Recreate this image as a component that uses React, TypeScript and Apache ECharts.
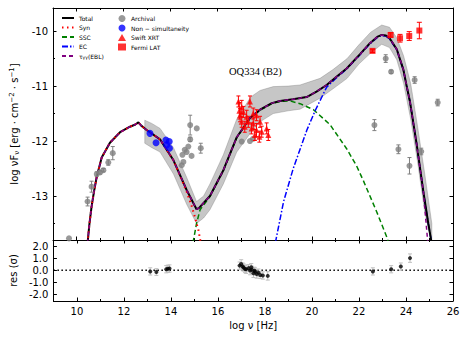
import React, { useEffect, useRef } from 'react';
import * as echarts from 'echarts';

// ---------- data ----------
const xTicksMajor = [10, 12, 14, 16, 18, 20, 22, 24, 26];
const xTicksMinor = [9, 11, 13, 15, 17, 19, 21, 23, 25];
const yTicksMajor = [-13, -12, -11, -10];
const yTicksMinor = [-13.5, -12.5, -11.5, -10.5];
const resTicks = [-2, -1, 0, 1, 2];

const totalCurve: [number, number][] = [
  [10.47, -13.85], [10.55, -13.5], [10.64, -13.19], [10.75, -12.9], [10.86, -12.65], [11.07, -12.3],
  [11.42, -12.03], [11.85, -11.84], [12.27, -11.74], [12.5, -11.7], [12.63, -11.66], [12.75, -11.72],
  [12.98, -11.8], [13.55, -11.97], [14.12, -12.35], [14.68, -12.89], [15.1, -13.24], [15.2, -13.22],
  [15.67, -13.0], [16.24, -12.53], [16.81, -11.93], [17.37, -11.58], [17.8, -11.43], [18.3, -11.31],
  [18.65, -11.27], [19.2, -11.24], [19.78, -11.2], [20.2, -11.1], [20.63, -10.98], [21.05, -10.83],
  [21.48, -10.68], [22.05, -10.42], [22.47, -10.22], [22.8, -10.1], [22.97, -10.07], [23.15, -10.08],
  [23.32, -10.14], [23.61, -10.33], [23.89, -10.7], [24.03, -11.0], [24.17, -11.28], [24.46, -12.07],
  [24.74, -12.92], [24.95, -13.5], [25.09, -13.85],
];
const synCurve: [number, number][] = [
  [10.47, -13.85], [10.55, -13.5], [10.64, -13.19], [10.75, -12.9], [10.86, -12.65], [11.07, -12.3],
  [11.42, -12.03], [11.85, -11.84], [12.27, -11.74], [12.5, -11.7], [12.63, -11.66], [12.75, -11.72],
  [12.98, -11.8], [13.55, -11.97], [14.12, -12.35], [14.68, -12.92], [14.9, -13.19], [15.03, -13.38],
  [15.18, -13.62], [15.28, -13.85],
];
const sscCurve: [number, number][] = [
  [14.95, -13.85], [15.1, -13.5], [15.25, -13.25], [15.67, -13.01], [16.24, -12.54], [16.81, -11.94],
  [17.37, -11.59], [17.8, -11.44], [18.3, -11.32], [18.65, -11.28], [19.07, -11.27], [19.5, -11.32],
  [20.07, -11.43], [20.77, -11.7], [21.48, -12.14], [21.9, -12.45], [22.19, -12.72], [22.76, -13.29],
  [23.18, -13.74], [23.26, -13.85],
];
const ecCurve: [number, number][] = [
  [18.45, -13.85], [18.8, -13.1], [19.21, -12.5], [19.79, -11.8], [20.15, -11.44], [20.63, -11.02],
  [21.05, -10.85], [21.48, -10.69], [22.05, -10.43], [22.47, -10.23], [22.8, -10.11], [22.97, -10.08],
  [23.15, -10.09], [23.32, -10.15], [23.61, -10.34], [23.89, -10.7], [24.03, -11.0], [24.17, -11.28],
  [24.46, -12.07], [24.74, -12.92], [24.95, -13.5], [25.09, -13.85],
];
const ebl: [number, number][] = [
  [10.47, -13.85], [10.55, -13.5], [10.64, -13.19], [10.75, -12.9], [10.86, -12.65], [11.07, -12.3],
  [11.42, -12.03], [11.85, -11.84], [12.27, -11.74], [12.5, -11.7], [12.63, -11.66], [12.75, -11.72],
  [12.98, -11.8], [13.55, -11.97], [14.12, -12.35], [14.68, -12.89], [15.1, -13.24], [15.2, -13.22],
  [15.67, -13.0], [16.24, -12.53], [16.81, -11.93], [17.37, -11.58], [17.8, -11.43], [18.3, -11.31],
  [18.65, -11.27], [19.2, -11.24], [19.78, -11.2], [20.2, -11.1], [20.63, -10.98], [21.05, -10.83],
  [21.48, -10.68], [22.05, -10.42], [22.47, -10.22], [22.8, -10.1], [22.97, -10.07], [23.15, -10.08],
  [23.32, -10.14], [23.61, -10.33], [23.89, -10.7], [24.03, -11.0], [24.17, -11.28], [24.46, -12.07],
  [24.74, -12.92], [24.93, -13.85],
];

const bandX = [12.9, 13.2, 13.55, 14.12, 14.68, 15.1, 15.4, 15.67, 16.24, 16.81, 17.4, 17.8, 18.36, 19.0, 19.5, 20.35, 20.9, 21.5, 22.0, 22.5, 22.97, 23.3, 23.61, 23.9, 24.2, 24.5, 24.8, 25.1];
const bandHi = [-11.62, -11.68, -11.77, -12.12, -12.66, -13.1, -13.0, -12.78, -12.25, -11.6, -11.2, -11.08, -11.01, -11.0, -10.98, -10.86, -10.7, -10.5, -10.25, -10.02, -9.89, -9.93, -10.12, -10.45, -10.95, -11.75, -12.6, -13.5];
const bandLo = [-12.04, -12.12, -12.2, -12.6, -13.15, -13.5, -13.4, -13.25, -12.78, -12.2, -11.85, -11.65, -11.5, -11.45, -11.42, -11.22, -11.05, -10.86, -10.6, -10.4, -10.24, -10.3, -10.52, -10.95, -11.6, -12.4, -13.3, -13.85];

// [log nu, log nuFnu, error]
const archival: [number, number, number][] = [
  [9.68, -13.77, 0], [10.47, -13.1, 0.08], [10.64, -12.83, 0.1], [10.86, -12.6, 0.04], [11.0, -12.57, 0.03],
  [11.14, -12.53, 0.03], [11.35, -12.39, 0.05], [11.54, -12.22, 0.12],
  [14.47, -12.44, 0], [14.54, -12.38, 0], [14.5, -12.25, 0], [14.6, -12.16, 0], [14.68, -12.2, 0],
  [14.75, -12.1, 0], [14.83, -11.97, 0.04], [14.89, -12.27, 0], [14.83, -11.71, 0.18], [15.11, -11.77, 0],
  [15.28, -12.13, 0.09],
  [17.02, -12.01, 0], [17.37, -12.0, 0], [17.5, -11.96, 0],
  [22.66, -11.71, 0.1], [23.14, -10.5, 0.07], [23.37, -10.74, 0.03], [23.68, -12.15, 0.08],
  [24.15, -12.45, 0.15], [24.37, -10.89, 0.06], [24.65, -12.19, 0.06], [25.35, -11.3, 0.06],
];
const nonSimult: [number, number][] = [
  [13.12, -11.86], [13.38, -12.03], [13.8, -11.98], [13.94, -12.01], [13.83, -12.07], [13.95, -12.13],
];
const swiftXrt: [number, number, number][] = [
  [16.88, -11.28, 0.1], [16.92, -11.45, 0.15], [16.95, -11.53, 0.12], [17.02, -11.38, 0.12], [17.02, -11.65, 0.1],
  [17.09, -11.47, 0.1], [17.15, -11.74, 0.1], [17.23, -11.56, 0.12], [17.3, -11.65, 0.1], [17.37, -11.28, 0.1],
  [17.44, -11.77, 0.1], [17.51, -11.5, 0.1], [17.51, -11.68, 0.1], [17.58, -11.89, 0.1], [17.65, -11.53, 0.1],
  [17.65, -11.8, 0.12], [17.77, -11.92, 0.1], [17.8, -11.65, 0.1], [17.87, -11.83, 0.1], [18.08, -11.77, 0.1],
  [18.15, -11.89, 0.1],
];
const fermiLat: [number, number, number][] = [
  [22.58, -10.36, 0.03], [23.35, -10.07, 0.04], [23.75, -10.13, 0.07], [24.14, -10.09, 0.08], [24.57, -9.99, 0.15],
];
const residuals: [number, number, number][] = [
  [13.12, -0.1, 0.3], [13.38, -0.15, 0.28], [13.8, 0.08, 0.3], [13.87, 0.12, 0.3], [13.94, 0.14, 0.3],
  [16.92, 0.38, 0.3], [16.99, 0.52, 0.35], [17.05, 0.3, 0.3], [17.09, 0.22, 0.3], [17.15, 0.1, 0.3],
  [17.2, 0.08, 0.35], [17.3, 0.17, 0.3], [17.37, -0.03, 0.35], [17.42, 0.25, 0.3], [17.44, 0.03, 0.3],
  [17.51, -0.25, 0.35], [17.55, -0.05, 0.3], [17.58, -0.11, 0.3], [17.65, -0.31, 0.35], [17.72, -0.2, 0.3],
  [17.8, -0.39, 0.3], [17.91, -0.44, 0.3], [18.12, -0.47, 0.35],
  [22.59, -0.1, 0.3], [23.37, 0.08, 0.3], [23.78, 0.3, 0.3], [24.17, 1.0, 0.35],
];
const zeroLine: [number, number][] = [[9, 0], [26, 0]];

const FONT = 'DejaVu Sans';

function errorBars(color: string, cap: number) {
  return (params: any, api: any) => {
    const x = api.value(0), y = api.value(1), e = api.value(2);
    if (!e) return null;
    const a = api.coord([x, y + e]);
    const b = api.coord([x, y - e]);
    const style = { stroke: color, lineWidth: 1 };
    return {
      type: 'group',
      children: [
        { type: 'line', shape: { x1: a[0], y1: a[1], x2: b[0], y2: b[1] }, style },
        { type: 'line', shape: { x1: a[0] - cap, y1: a[1], x2: a[0] + cap, y2: a[1] }, style },
        { type: 'line', shape: { x1: b[0] - cap, y1: b[1], x2: b[0] + cap, y2: b[1] }, style },
      ],
    };
  };
}

function xAx(grid: number, pos: string, ticks: number[], len: number, line: boolean, labels: boolean, extra: any = {}) {
  return {
    type: 'value', gridIndex: grid, position: pos, min: 9, max: 26,
    axisLine: { show: line, onZero: false, lineStyle: { color: '#000', width: 1 } },
    axisTick: { show: true, inside: true, length: len, customValues: ticks, lineStyle: { color: '#000', width: 1 } },
    axisLabel: { show: labels, customValues: ticks, color: '#000', fontSize: 10, fontFamily: FONT, margin: 5 },
    splitLine: { show: false },
    ...extra,
  };
}
function yAx(grid: number, pos: string, min: number, max: number, ticks: number[], len: number, line: boolean, labels: boolean, fmt: any, extra: any = {}) {
  return {
    type: 'value', gridIndex: grid, position: pos, min, max,
    axisLine: { show: line, onZero: false, lineStyle: { color: '#000', width: 1 } },
    axisTick: { show: true, inside: true, length: len, customValues: ticks, lineStyle: { color: '#000', width: 1 } },
    axisLabel: { show: labels, customValues: ticks, color: '#000', fontSize: 10, fontFamily: FONT, margin: 5, formatter: fmt },
    splitLine: { show: false },
    ...extra,
  };
}

export default function App() {
  const ref = useRef<HTMLDivElement>(null);
  useEffect(() => {
    if (!ref.current) return;
    const chart = echarts.init(ref.current, null, { renderer: 'svg' });
    const mainFmt = (v: number) => String(Math.round(v));
    const resFmt = (v: number) => v.toFixed(1);
    const option: any = {
      animation: false,
      backgroundColor: '#fff',
      textStyle: { fontFamily: FONT },
      grid: [
        { left: 53, top: 8, width: 400, height: 232 },
        { left: 53, top: 240, width: 400, height: 61 },
      ],
      xAxis: [
        xAx(0, 'bottom', xTicksMajor, 3.5, true, false),
        xAx(0, 'top', xTicksMajor, 3.5, true, false),
        xAx(0, 'bottom', xTicksMinor, 2, false, false),
        xAx(0, 'top', xTicksMinor, 2, false, false),
        xAx(1, 'bottom', xTicksMajor, 3.5, true, true, {
          name: 'log ν [Hz]', nameLocation: 'middle', nameGap: 19,
          nameTextStyle: { fontSize: 10, fontFamily: FONT, color: '#000' },
        }),
        xAx(1, 'top', xTicksMajor, 3.5, true, false),
        xAx(1, 'bottom', xTicksMinor, 2, false, false),
        xAx(1, 'top', xTicksMinor, 2, false, false),
      ],
      yAxis: [
        yAx(0, 'left', -13.8, -9.58, yTicksMajor, 3.5, true, true, mainFmt, {
          name: 'log νF{sub|ν} [erg · cm{sup|−2} · s{sup|−1}]', nameLocation: 'middle', nameGap: 31, nameRotate: 90,
          nameTextStyle: {
            fontSize: 10, fontFamily: FONT, color: '#000',
            rich: {
              sub: { fontSize: 7, fontFamily: FONT, color: '#000', padding: [5, 0, 0, 0] },
              sup: { fontSize: 7, fontFamily: FONT, color: '#000', padding: [0, 0, 6, 0] },
            },
          },
        }),
        yAx(0, 'right', -13.8, -9.58, yTicksMajor, 3.5, true, false, mainFmt),
        yAx(0, 'left', -13.8, -9.58, yTicksMinor, 2, false, false, mainFmt),
        yAx(0, 'right', -13.8, -9.58, yTicksMinor, 2, false, false, mainFmt),
        yAx(1, 'left', -2.55, 2.5, resTicks, 3.5, true, true, resFmt, {
          name: 'res (σ)', nameLocation: 'middle', nameGap: 31, nameRotate: 90,
          nameTextStyle: { fontSize: 10, fontFamily: FONT, color: '#000' },
        }),
        yAx(1, 'right', -2.55, 2.5, resTicks, 3.5, true, false, resFmt),
      ],
      legend: [
        {
          data: ['Total', 'Syn', 'SSC', 'EC', 'τγγ(EBL)'],
          orient: 'vertical', left: 56, top: 10, itemWidth: 12, itemHeight: 6, itemGap: 3.5,
          itemStyle: { opacity: 0 },
          textStyle: {
            fontSize: 6, fontFamily: FONT, color: '#000',
            rich: {
              t: { fontSize: 6, fontFamily: FONT, color: '#000' },
              s: { fontSize: 4.5, fontFamily: FONT, color: '#000', padding: [3, 0, 0, 0] },
            },
          },
          formatter: (n: string) => (n === 'τγγ(EBL)' ? '{t|τ}{s|γγ}{t|(EBL)}' : n),
        },
        {
          data: ['Archival', 'Non − simultaneity', 'Swift XRT', 'Fermi LAT'],
          orient: 'vertical', left: 113, top: 10, itemWidth: 8, itemHeight: 7, itemGap: 2.5,
          textStyle: { fontSize: 6, fontFamily: FONT, color: '#000' },
        },
      ],
      graphic: [
        { type: 'text', left: 229, top: 66, style: { text: 'OQ334 (B2)', fontSize: 10.5, fontFamily: 'Liberation Serif', fill: '#000' } },
      ],
      series: [
        {
          type: 'custom', name: 'band', xAxisIndex: 0, yAxisIndex: 0, z: 1, silent: true, clip: true,
          data: bandX.map((x, i) => [x, bandLo[i], bandHi[i]]),
          encode: { x: 0, y: [1, 2] },
          renderItem: (params: any, api: any) => {
            if (params.dataIndex !== 0) return null;
            const pts: number[][] = [];
            for (let i = 0; i < bandX.length; i++) pts.push(api.coord([bandX[i], bandHi[i]]));
            for (let i = bandX.length - 1; i >= 0; i--) pts.push(api.coord([bandX[i], bandLo[i]]));
            return { type: 'polygon', shape: { points: pts }, style: { fill: 'rgba(128,128,128,0.45)', stroke: 'rgba(100,100,100,0.5)', lineWidth: 0.6 } };
          },
        },
        { type: 'line', name: 'SSC', data: sscCurve, xAxisIndex: 0, yAxisIndex: 0, symbol: 'none', showSymbol: false, z: 3, clip: true,
          lineStyle: { color: '#008000', width: 1.5, type: [5, 3] }, itemStyle: { color: '#008000' } },
        { type: 'line', name: 'EC', data: ecCurve, xAxisIndex: 0, yAxisIndex: 0, symbol: 'none', showSymbol: false, z: 3, clip: true,
          lineStyle: { color: '#0000ff', width: 1.5, type: [6, 2, 1.5, 2] }, itemStyle: { color: '#0000ff' } },
        { type: 'line', name: 'Total', data: totalCurve, xAxisIndex: 0, yAxisIndex: 0, symbol: 'none', showSymbol: false, z: 4, clip: true,
          lineStyle: { color: '#000', width: 2 }, itemStyle: { color: '#000' } },
        { type: 'line', name: 'Syn', data: synCurve, xAxisIndex: 0, yAxisIndex: 0, symbol: 'none', showSymbol: false, z: 5, clip: true,
          lineStyle: { color: '#ff0000', width: 2, type: [1.5, 3.5] }, itemStyle: { color: '#ff0000' } },
        { type: 'line', name: 'τγγ(EBL)', data: ebl, xAxisIndex: 0, yAxisIndex: 0, symbol: 'none', showSymbol: false, z: 5, clip: true,
          lineStyle: { color: '#800080', width: 1.5, type: [4, 3] }, itemStyle: { color: '#800080' } },
        {
          type: 'custom', name: 'archErr', xAxisIndex: 0, yAxisIndex: 0, z: 6, silent: true,
          data: archival, encode: { x: 0, y: 1 }, renderItem: errorBars('#808080', 2),
        },
        { type: 'scatter', name: 'Archival', data: archival.map((p) => [p[0], p[1]]), xAxisIndex: 0, yAxisIndex: 0, z: 6,
          symbol: 'circle', symbolSize: 6, itemStyle: { color: '#808080' } },
        { type: 'scatter', name: 'Non − simultaneity', data: nonSimult, xAxisIndex: 0, yAxisIndex: 0, z: 7,
          symbol: 'circle', symbolSize: 7, itemStyle: { color: '#0000ff' } },
        {
          type: 'custom', name: 'xrtErr', xAxisIndex: 0, yAxisIndex: 0, z: 7, silent: true,
          data: swiftXrt, encode: { x: 0, y: 1 }, renderItem: errorBars('#ff0000', 2),
        },
        { type: 'scatter', name: 'Swift XRT', data: swiftXrt.map((p) => [p[0], p[1]]), xAxisIndex: 0, yAxisIndex: 0, z: 7,
          symbol: 'triangle', symbolSize: 6, itemStyle: { color: '#ff0000' } },
        {
          type: 'custom', name: 'latErr', xAxisIndex: 0, yAxisIndex: 0, z: 7, silent: true,
          data: fermiLat, encode: { x: 0, y: 1 }, renderItem: errorBars('#ff0000', 2.5),
        },
        { type: 'scatter', name: 'Fermi LAT', data: fermiLat.map((p) => [p[0], p[1]]), xAxisIndex: 0, yAxisIndex: 0, z: 7,
          symbol: 'rect', symbolSize: 6, itemStyle: { color: '#ff0000' } },
        // residual panel
        { type: 'line', name: 'zero', data: zeroLine, xAxisIndex: 4, yAxisIndex: 4, symbol: 'none', showSymbol: false, z: 2,
          lineStyle: { color: '#000', width: 1.5, type: [1.5, 2.5] } },
        {
          type: 'custom', name: 'resErr', xAxisIndex: 4, yAxisIndex: 4, z: 3, silent: true,
          data: residuals, encode: { x: 0, y: 1 }, renderItem: errorBars('#c0c0c0', 2),
        },
        { type: 'scatter', name: 'res', data: residuals.map((p) => [p[0], p[1]]), xAxisIndex: 4, yAxisIndex: 4, z: 4,
          symbol: 'circle', symbolSize: 4, itemStyle: { color: '#000' } },
      ],
    };
    chart.setOption(option);
    return () => chart.dispose();
  }, []);
  return <div ref={ref} style={{ position: 'absolute', left: 0, top: 0, width: 469, height: 343, background: '#fff' }} />;
}
